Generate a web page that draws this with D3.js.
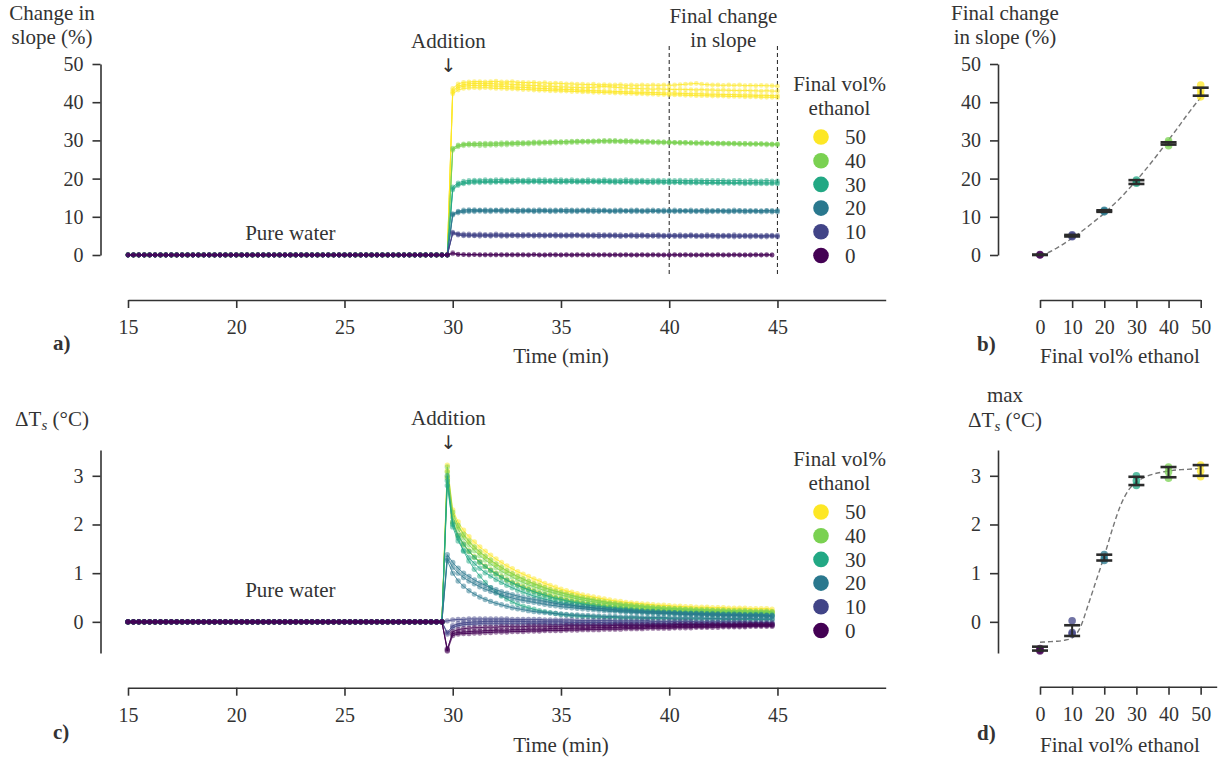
<!DOCTYPE html>
<html>
<head>
<meta charset="utf-8">
<script src="https://cdn.jsdelivr.net/npm/d3@7"></script>
<style>
  body { margin: 0; background: #fff; }
  svg text { font-family: "Liberation Serif", "Times New Roman", serif; }
</style>
</head>
<body>
<svg id="fig" width="1225" height="761"></svg>
<script>
// sample times in minutes, one reading every 15 s from 15 to 45 min
const timeMin = d3.range(15, 45.001, 0.25);
const ethanolPct = [0, 10, 20, 30, 40, 50];
const slopeTicks = [0, 10, 20, 30, 40, 50];
const timeTicks = [15, 20, 25, 30, 35, 40, 45];
const tempTicks = [0, 1, 2, 3];

// a) change in slope (%), pure water phase 15 - 29.75 min (same for every run)
const slopeBefore = [
  0,0,0,0,0,0,0,0,0,0, 0,0,0,0,0,0,0,0,0,0, 0,0,0,0,0,0,0,0,0,0,
  0,0,0,0,0,0,0,0,0,0, 0,0,0,0,0,0,0,0,0,0, 0,0,0,0,0,0,0,0,0,0
];
// a) after addition, 30 - 45 min, one array per run
const slope50 = [
  [43.6,44.8,45.2,45.3,45.4,45.4,45.3,45.4,45.5,45.3,
   45.3,45.4,45.2,45.2,45.1,45.2,45.0,45.1,44.9,45.0,
   44.9,44.8,44.8,44.7,44.7,44.6,44.7,44.5,44.6,44.5,
   44.5,44.6,44.4,44.5,44.4,44.5,44.4,44.5,44.4,44.5,
   44.4,44.5,44.6,44.7,44.8,44.9,44.7,44.6,44.5,44.5,
   44.4,44.5,44.4,44.5,44.3,44.4,44.3,44.4,44.3,44.3,44.2],
  [43.0,44.2,44.6,44.8,44.9,44.9,44.8,44.9,44.8,44.7,
   44.8,44.6,44.6,44.5,44.4,44.4,44.3,44.2,44.2,44.1,
   44.0,44.0,43.9,43.9,43.8,43.8,43.9,44.0,44.1,44.0,
   43.9,43.8,43.7,43.6,43.6,43.5,43.5,43.4,43.5,43.4,
   43.4,43.3,43.4,43.3,43.3,43.2,43.3,43.2,43.2,43.1,
   43.2,43.1,43.1,43.0,43.1,43.0,43.0,42.9,43.0,42.9,42.9],
  [42.6,43.8,44.2,44.3,44.4,44.3,44.4,44.3,44.2,44.2,
   44.1,44.0,43.9,43.9,43.8,43.7,43.6,43.6,43.5,43.4,
   43.4,43.3,43.3,43.2,43.1,43.1,43.0,43.0,42.9,42.9,
   42.8,42.8,42.7,42.7,42.6,42.6,42.6,42.5,42.5,42.4,
   42.4,42.4,42.3,42.3,42.2,42.2,42.2,42.1,42.1,42.1,
   42.0,42.0,42.0,41.9,41.9,41.9,41.8,41.8,41.8,41.7,41.7],
  [42.2,43.2,43.6,43.7,43.8,43.7,43.8,43.7,43.6,43.6,
   43.5,43.5,43.4,43.3,43.3,43.2,43.1,43.1,43.0,43.0,
   42.9,42.9,42.8,42.8,42.7,42.7,42.6,42.6,42.5,42.5,
   42.4,42.4,42.3,42.3,42.2,42.2,42.1,42.1,42.0,42.0,
   41.9,41.9,41.9,41.8,41.8,41.7,41.7,41.7,41.6,41.6,
   41.6,41.5,41.5,41.5,41.4,41.4,41.4,41.3,41.3,41.3,41.2]
];
const slope40 = [
  [27.8,28.6,28.9,29.0,29.0,29.1,29.0,29.0,29.1,29.1,
   29.2,29.2,29.3,29.2,29.3,29.4,29.4,29.5,29.5,29.6,
   29.6,29.7,29.7,29.8,29.8,29.8,29.9,29.9,30.0,30.0,
   30.0,29.9,30.0,29.9,29.9,29.8,29.8,29.7,29.7,29.6,
   29.6,29.5,29.5,29.5,29.4,29.4,29.4,29.3,29.3,29.3,
   29.3,29.2,29.2,29.2,29.2,29.1,29.1,29.1,29.1,29.0,29.0],
  [27.4,28.3,28.6,28.7,28.7,28.6,28.6,28.7,28.7,28.8,
   28.8,28.9,28.9,29.0,29.0,29.1,29.1,29.2,29.2,29.3,
   29.3,29.3,29.4,29.4,29.5,29.5,29.5,29.6,29.6,29.6,
   29.6,29.6,29.5,29.5,29.5,29.4,29.4,29.4,29.3,29.3,
   29.3,29.3,29.2,29.2,29.2,29.1,29.1,29.1,29.1,29.0,
   29.0,29.0,29.0,28.9,28.9,28.9,28.9,28.9,28.8,28.8,28.8],
  [28.0,28.8,29.1,29.2,29.2,29.2,29.3,29.3,29.3,29.4,
   29.4,29.4,29.5,29.5,29.5,29.6,29.6,29.6,29.7,29.7,
   29.7,29.7,29.8,29.8,29.8,29.8,29.8,29.9,29.9,29.9,
   29.9,29.8,29.8,29.8,29.7,29.7,29.7,29.6,29.6,29.6,
   29.5,29.5,29.5,29.5,29.4,29.4,29.4,29.4,29.3,29.3,
   29.3,29.3,29.3,29.2,29.2,29.2,29.2,29.2,29.1,29.1,29.1]
];
const slope30 = [
  [17.8,18.9,19.3,19.5,19.6,19.6,19.7,19.6,19.7,19.7,
   19.6,19.7,19.7,19.6,19.7,19.6,19.7,19.7,19.6,19.7,
   19.7,19.6,19.7,19.6,19.6,19.7,19.6,19.6,19.7,19.6,
   19.6,19.6,19.7,19.6,19.6,19.6,19.5,19.6,19.6,19.5,
   19.6,19.5,19.6,19.5,19.5,19.6,19.5,19.5,19.5,19.5,
   19.5,19.4,19.5,19.5,19.4,19.5,19.4,19.4,19.5,19.4,19.4],
  [17.4,18.5,18.9,19.1,19.2,19.2,19.2,19.3,19.2,19.3,
   19.3,19.2,19.3,19.3,19.2,19.3,19.3,19.2,19.3,19.2,
   19.2,19.3,19.2,19.2,19.3,19.2,19.2,19.2,19.3,19.2,
   19.2,19.1,19.2,19.2,19.1,19.2,19.1,19.1,19.2,19.1,
   19.1,19.1,19.0,19.1,19.1,19.0,19.1,19.0,19.0,19.0,
   19.0,19.0,18.9,19.0,18.9,18.9,19.0,18.9,18.9,18.9,18.9],
  [17.0,18.2,18.6,18.8,18.9,18.9,19.0,18.9,19.0,19.0,
   19.0,19.0,19.1,19.0,19.0,19.1,19.0,19.0,19.1,19.0,
   19.0,19.0,19.1,19.0,19.0,19.0,19.1,19.0,19.0,19.0,
   18.9,19.0,19.0,18.9,18.9,19.0,18.9,18.9,18.9,18.9,
   18.8,18.9,18.9,18.8,18.8,18.8,18.8,18.7,18.8,18.7,
   18.7,18.7,18.7,18.7,18.6,18.7,18.6,18.6,18.6,18.6,18.6]
];
const slope20 = [
  [10.6,11.3,11.5,11.6,11.6,11.7,11.6,11.6,11.7,11.6,
   11.6,11.6,11.5,11.6,11.6,11.5,11.6,11.6,11.5,11.6,
   11.6,11.5,11.6,11.5,11.6,11.6,11.5,11.5,11.6,11.5,
   11.5,11.6,11.5,11.5,11.6,11.5,11.5,11.5,11.6,11.5,
   11.5,11.5,11.6,11.5,11.5,11.5,11.6,11.5,11.5,11.6,
   11.5,11.5,11.5,11.6,11.5,11.5,11.5,11.5,11.6,11.5,11.5],
  [10.4,11.0,11.2,11.3,11.3,11.4,11.3,11.3,11.4,11.3,
   11.3,11.4,11.3,11.3,11.4,11.3,11.3,11.4,11.3,11.3,
   11.4,11.3,11.3,11.3,11.4,11.3,11.3,11.3,11.4,11.3,
   11.3,11.3,11.4,11.3,11.3,11.3,11.3,11.4,11.3,11.3,
   11.3,11.3,11.3,11.4,11.3,11.3,11.3,11.2,11.3,11.3,
   11.3,11.2,11.3,11.3,11.2,11.3,11.3,11.2,11.3,11.2,11.2],
  [10.8,11.5,11.8,11.9,11.9,11.8,11.9,11.8,11.8,11.9,
   11.8,11.8,11.9,11.8,11.8,11.8,11.9,11.8,11.8,11.8,
   11.8,11.9,11.8,11.8,11.8,11.8,11.9,11.8,11.8,11.7,
   11.8,11.8,11.7,11.8,11.8,11.7,11.8,11.8,11.7,11.8,
   11.7,11.8,11.7,11.7,11.8,11.7,11.7,11.8,11.7,11.7,
   11.7,11.7,11.8,11.7,11.7,11.7,11.7,11.6,11.7,11.7,11.7]
];
const slope10 = [
  [6.0,5.6,5.5,5.5,5.4,5.5,5.4,5.4,5.5,5.4,
   5.4,5.4,5.3,5.4,5.4,5.3,5.4,5.3,5.3,5.4,
   5.3,5.3,5.4,5.3,5.3,5.3,5.3,5.4,5.3,5.3,
   5.3,5.3,5.2,5.3,5.3,5.3,5.2,5.3,5.3,5.2,
   5.3,5.2,5.3,5.2,5.3,5.2,5.2,5.3,5.2,5.2,
   5.2,5.2,5.3,5.2,5.2,5.2,5.2,5.1,5.2,5.2,5.2],
  [5.6,5.2,5.0,5.0,5.0,4.9,5.0,4.9,5.0,4.9,
   4.9,5.0,4.9,4.9,5.0,4.9,4.9,4.9,5.0,4.9,
   4.9,4.9,4.9,5.0,4.9,4.9,4.9,4.8,4.9,4.9,
   4.9,4.8,4.9,4.9,4.8,4.9,4.8,4.9,4.8,4.8,
   4.9,4.8,4.8,4.8,4.9,4.8,4.8,4.8,4.8,4.7,
   4.8,4.8,4.7,4.8,4.8,4.7,4.8,4.7,4.7,4.8,4.7],
  [5.8,5.4,5.2,5.2,5.1,5.2,5.1,5.1,5.2,5.1,
   5.1,5.1,5.2,5.1,5.1,5.1,5.2,5.1,5.1,5.1,
   5.1,5.1,5.1,5.2,5.1,5.1,5.1,5.0,5.1,5.1,
   5.1,5.0,5.1,5.1,5.0,5.1,5.1,5.0,5.1,5.0,
   5.0,5.1,5.0,5.0,5.1,5.0,5.0,5.0,5.1,5.0,
   5.0,5.0,5.0,4.9,5.0,5.0,5.0,4.9,5.0,5.0,4.9]
];
const slope0 = [
  [0.6,0.2,0.1,0.1,0.1,0.1,0.0,0.1,0.1,0.0,
   0.1,0.0,0.1,0.1,0.0,0.1,0.0,0.0,0.1,0.0,
   0.0,0.1,0.0,0.0,0.1,0.0,0.0,0.0,0.1,0.0,
   0.0,0.0,0.1,0.0,0.0,0.0,0.0,0.1,0.0,0.0,
   0.0,0.0,0.0,0.1,0.0,0.0,0.0,0.0,0.0,0.1,
   0.0,0.0,0.0,0.0,0.0,0.0,0.1,0.0,0.0,0.0],
  [0.3,0.1,0.1,0.0,0.1,0.0,0.1,0.0,0.0,0.1,
   0.0,0.1,0.0,0.0,0.0,0.1,0.0,0.0,0.0,0.1,
   0.0,0.0,0.0,0.1,0.0,0.0,0.1,0.0,0.0,0.0,
   0.1,0.0,0.0,0.0,0.0,0.1,0.0,0.0,0.0,0.0,
   0.0,0.1,0.0,0.0,0.0,0.0,0.0,0.1,0.0,0.0,
   0.0,0.0,0.1,0.0,0.0,0.0,0.0,0.0,0.1,0.0]
];

// c) ΔTs (°C), pure water phase 15 - 29.5 min (same for every run)
const tempBefore = [
  0,0,0,0,0,0,0,0,0,0, 0,0,0,0,0,0,0,0,0,0, 0,0,0,0,0,0,0,0,0,0,
  0,0,0,0,0,0,0,0,0,0, 0,0,0,0,0,0,0,0,0,0, 0,0,0,0,0,0,0,0,0
];
// c) after addition, 29.75 - 44.75 min, one array per run
const temp50 = [
  [3.22,2.30,2.05,1.88,1.75,1.64,1.54,1.45,1.37,1.29,
   1.22,1.15,1.09,1.03,0.98,0.93,0.88,0.84,0.79,0.75,
   0.71,0.67,0.64,0.61,0.58,0.55,0.53,0.51,0.49,0.47,
   0.45,0.43,0.42,0.40,0.39,0.38,0.37,0.36,0.35,0.34,
   0.34,0.33,0.32,0.32,0.31,0.31,0.30,0.30,0.30,0.29,
   0.29,0.29,0.28,0.28,0.28,0.28,0.27,0.27,0.27,0.27,0.26],
  [3.10,2.20,1.95,1.78,1.64,1.53,1.43,1.34,1.26,1.18,
   1.11,1.05,0.99,0.93,0.88,0.83,0.79,0.75,0.71,0.67,
   0.64,0.61,0.58,0.55,0.52,0.50,0.48,0.46,0.44,0.42,
   0.40,0.39,0.37,0.36,0.35,0.34,0.33,0.32,0.31,0.30,
   0.30,0.29,0.28,0.28,0.27,0.27,0.26,0.26,0.26,0.25,
   0.25,0.25,0.24,0.24,0.24,0.24,0.23,0.23,0.23,0.23,0.22],
  [2.98,2.05,1.78,1.60,1.46,1.34,1.24,1.15,1.07,1.00,
   0.93,0.87,0.82,0.77,0.72,0.68,0.64,0.60,0.57,0.54,
   0.51,0.48,0.46,0.44,0.42,0.40,0.38,0.36,0.35,0.34,
   0.32,0.31,0.30,0.29,0.28,0.27,0.27,0.26,0.25,0.25,
   0.24,0.24,0.23,0.23,0.23,0.22,0.22,0.22,0.21,0.21,
   0.21,0.21,0.20,0.20,0.20,0.20,0.20,0.19,0.19,0.19,0.19]
];
const temp40 = [
  [3.18,2.25,1.98,1.80,1.66,1.54,1.44,1.35,1.27,1.19,
   1.12,1.05,0.99,0.93,0.88,0.83,0.78,0.74,0.70,0.66,
   0.63,0.60,0.57,0.54,0.51,0.49,0.47,0.45,0.43,0.41,
   0.39,0.38,0.36,0.35,0.34,0.33,0.32,0.31,0.30,0.29,
   0.28,0.28,0.27,0.27,0.26,0.26,0.25,0.25,0.25,0.24,
   0.24,0.24,0.23,0.23,0.23,0.23,0.22,0.22,0.22,0.22,0.21],
  [3.08,2.15,1.90,1.72,1.58,1.46,1.36,1.27,1.19,1.11,
   1.04,0.98,0.92,0.86,0.81,0.76,0.72,0.68,0.64,0.61,
   0.58,0.55,0.52,0.50,0.47,0.45,0.43,0.41,0.40,0.38,
   0.37,0.35,0.34,0.33,0.32,0.31,0.30,0.29,0.28,0.28,
   0.27,0.26,0.26,0.25,0.25,0.24,0.24,0.23,0.23,0.23,
   0.22,0.22,0.22,0.21,0.21,0.21,0.21,0.20,0.20,0.20,0.20],
  [2.95,2.02,1.76,1.58,1.44,1.32,1.22,1.13,1.05,0.98,
   0.91,0.85,0.80,0.75,0.70,0.66,0.62,0.58,0.55,0.52,
   0.49,0.47,0.44,0.42,0.40,0.38,0.37,0.35,0.34,0.32,
   0.31,0.30,0.29,0.28,0.27,0.26,0.25,0.25,0.24,0.23,
   0.23,0.22,0.22,0.21,0.21,0.21,0.20,0.20,0.20,0.19,
   0.19,0.19,0.19,0.19,0.18,0.18,0.18,0.18,0.18,0.18,0.17]
];
const temp30 = [
  [3.00,2.05,1.78,1.60,1.45,1.33,1.23,1.14,1.06,0.99,
   0.92,0.86,0.80,0.75,0.70,0.66,0.62,0.58,0.55,0.51,
   0.48,0.46,0.43,0.41,0.39,0.37,0.35,0.33,0.32,0.30,
   0.29,0.28,0.27,0.26,0.25,0.24,0.23,0.22,0.22,0.21,
   0.20,0.20,0.19,0.19,0.18,0.18,0.18,0.17,0.17,0.17,
   0.16,0.16,0.16,0.16,0.15,0.15,0.15,0.15,0.15,0.14,0.14],
  [2.90,1.95,1.66,1.47,1.32,1.20,1.10,1.01,0.94,0.87,
   0.81,0.75,0.70,0.65,0.61,0.57,0.53,0.50,0.47,0.44,
   0.41,0.39,0.37,0.35,0.33,0.31,0.30,0.28,0.27,0.26,
   0.25,0.24,0.23,0.22,0.21,0.21,0.20,0.19,0.19,0.18,
   0.18,0.17,0.17,0.16,0.16,0.16,0.15,0.15,0.15,0.14,
   0.14,0.14,0.14,0.13,0.13,0.13,0.13,0.13,0.12,0.12,0.12],
  [2.80,2.00,1.72,1.45,1.25,1.08,0.94,0.81,0.70,0.61,
   0.53,0.47,0.41,0.36,0.32,0.29,0.26,0.23,0.21,0.19,
   0.17,0.15,0.14,0.13,0.12,0.11,0.11,0.10,0.10,0.09,
   0.09,0.09,0.08,0.08,0.08,0.08,0.07,0.07,0.07,0.07,
   0.07,0.07,0.06,0.06,0.06,0.06,0.06,0.06,0.06,0.06,
   0.06,0.05,0.05,0.05,0.05,0.05,0.05,0.05,0.05,0.05,0.05]
];
const temp20 = [
  [1.38,1.22,1.10,1.00,0.93,0.86,0.80,0.75,0.70,0.66,
   0.62,0.59,0.56,0.53,0.50,0.48,0.46,0.44,0.42,0.40,
   0.38,0.36,0.35,0.34,0.32,0.31,0.30,0.29,0.28,0.27,
   0.26,0.25,0.24,0.24,0.23,0.22,0.22,0.21,0.21,0.20,
   0.20,0.19,0.19,0.18,0.18,0.17,0.17,0.17,0.16,0.16,
   0.16,0.15,0.15,0.15,0.15,0.14,0.14,0.14,0.14,0.13,0.13],
  [1.30,1.12,1.00,0.91,0.84,0.78,0.72,0.67,0.63,0.59,
   0.55,0.52,0.49,0.46,0.44,0.42,0.40,0.38,0.36,0.34,
   0.33,0.31,0.30,0.29,0.28,0.27,0.26,0.25,0.24,0.23,
   0.22,0.22,0.21,0.20,0.20,0.19,0.19,0.18,0.18,0.17,
   0.17,0.17,0.16,0.16,0.15,0.15,0.15,0.14,0.14,0.14,
   0.14,0.13,0.13,0.13,0.13,0.12,0.12,0.12,0.12,0.12,0.11],
  [1.26,1.00,0.84,0.73,0.64,0.57,0.51,0.46,0.42,0.38,
   0.35,0.32,0.29,0.27,0.25,0.23,0.21,0.20,0.19,0.18,
   0.17,0.16,0.15,0.14,0.14,0.13,0.13,0.12,0.12,0.11,
   0.11,0.11,0.10,0.10,0.10,0.10,0.09,0.09,0.09,0.09,
   0.09,0.08,0.08,0.08,0.08,0.08,0.08,0.08,0.07,0.07,
   0.07,0.07,0.07,0.07,0.07,0.07,0.07,0.06,0.06,0.06,0.06]
];
const temp10 = [
  [-0.22,-0.08,-0.04,-0.02,-0.01,0.00,0.00,0.01,0.01,0.01,
   0.01,0.01,0.01,0.01,0.01,0.00,0.00,0.00,0.00,0.00,
   0.00,0.00,-0.01,-0.01,-0.01,-0.01,-0.01,-0.01,-0.01,-0.02,
   -0.02,-0.02,-0.02,-0.02,-0.02,-0.02,-0.02,-0.02,-0.03,-0.03,
   -0.03,-0.03,-0.03,-0.03,-0.03,-0.03,-0.03,-0.03,-0.03,-0.03,
   -0.03,-0.04,-0.04,-0.04,-0.04,-0.04,-0.04,-0.04,-0.04,-0.04,-0.04],
  [0.02,0.04,0.05,0.05,0.06,0.06,0.06,0.06,0.06,0.06,
   0.06,0.06,0.05,0.05,0.05,0.05,0.05,0.05,0.04,0.04,
   0.04,0.04,0.04,0.04,0.03,0.03,0.03,0.03,0.03,0.03,
   0.03,0.02,0.02,0.02,0.02,0.02,0.02,0.02,0.01,0.01,
   0.01,0.01,0.01,0.01,0.01,0.01,0.00,0.00,0.00,0.00,
   0.00,0.00,0.00,0.00,0.00,0.00,-0.01,-0.01,-0.01,-0.01,-0.01],
  [-0.25,-0.12,-0.08,-0.06,-0.05,-0.05,-0.04,-0.04,-0.04,-0.04,
   -0.04,-0.04,-0.04,-0.04,-0.04,-0.04,-0.04,-0.04,-0.04,-0.05,
   -0.05,-0.05,-0.05,-0.05,-0.05,-0.05,-0.05,-0.05,-0.05,-0.05,
   -0.05,-0.05,-0.05,-0.06,-0.06,-0.06,-0.06,-0.06,-0.06,-0.06,
   -0.06,-0.06,-0.06,-0.06,-0.06,-0.06,-0.06,-0.06,-0.06,-0.06,
   -0.06,-0.06,-0.06,-0.06,-0.06,-0.06,-0.06,-0.06,-0.06,-0.06,-0.06]
];
const temp0 = [
  [-0.60,-0.28,-0.25,-0.24,-0.24,-0.23,-0.23,-0.22,-0.22,-0.21,
   -0.21,-0.21,-0.20,-0.20,-0.20,-0.19,-0.19,-0.19,-0.18,-0.18,
   -0.18,-0.18,-0.17,-0.17,-0.17,-0.16,-0.16,-0.16,-0.16,-0.15,
   -0.15,-0.15,-0.15,-0.14,-0.14,-0.14,-0.14,-0.13,-0.13,-0.13,
   -0.13,-0.13,-0.12,-0.12,-0.12,-0.12,-0.11,-0.11,-0.11,-0.11,
   -0.11,-0.10,-0.10,-0.10,-0.10,-0.10,-0.09,-0.09,-0.09,-0.09,-0.09],
  [-0.55,-0.24,-0.22,-0.21,-0.20,-0.19,-0.19,-0.18,-0.18,-0.17,
   -0.17,-0.17,-0.16,-0.16,-0.16,-0.15,-0.15,-0.15,-0.15,-0.14,
   -0.14,-0.14,-0.14,-0.13,-0.13,-0.13,-0.13,-0.12,-0.12,-0.12,
   -0.12,-0.12,-0.11,-0.11,-0.11,-0.11,-0.11,-0.10,-0.10,-0.10,
   -0.10,-0.10,-0.10,-0.09,-0.09,-0.09,-0.09,-0.09,-0.09,-0.08,
   -0.08,-0.08,-0.08,-0.08,-0.08,-0.08,-0.07,-0.07,-0.07,-0.07,-0.07],
  [-0.58,-0.20,-0.16,-0.14,-0.13,-0.12,-0.12,-0.11,-0.11,-0.11,
   -0.10,-0.10,-0.10,-0.10,-0.10,-0.09,-0.09,-0.09,-0.09,-0.09,
   -0.09,-0.09,-0.08,-0.08,-0.08,-0.08,-0.08,-0.08,-0.08,-0.08,
   -0.08,-0.07,-0.07,-0.07,-0.07,-0.07,-0.07,-0.07,-0.07,-0.07,
   -0.07,-0.07,-0.06,-0.06,-0.06,-0.06,-0.06,-0.06,-0.06,-0.06,
   -0.06,-0.06,-0.06,-0.06,-0.05,-0.05,-0.05,-0.05,-0.05,-0.05,-0.05]
];

// b) final change in slope (%), one value per run, plus mean and error bar
const finalSlope = [[0.0, 0.1], [4.8, 5.0, 5.3], [11.3, 11.5, 11.7], [18.8, 19.1, 19.6], [28.6, 29.3, 29.9], [41.4, 42.1, 43.2, 44.5]];
const finalSlopeMean = [0.05, 5.05, 11.5, 19.1, 29.2, 42.75];
const finalSlopeErr = [0.05, 0.2, 0.2, 0.5, 0.3, 1.05];
const fitX = [0, 2.5, 5, 7.5, 10, 12.5, 15, 17.5, 20, 22.5, 25, 27.5, 30, 32.5, 35, 37.5, 40, 42.5, 45, 47.5, 50];
const slopeFit = [0, 0.6, 1.7, 3.0, 4.4, 5.9, 7.5, 9.2, 10.9, 12.9, 14.9, 17.2, 19.5, 22.0, 24.6, 27.3, 30.1, 32.9, 35.8, 38.6, 41.2];

// d) max ΔTs (°C), one value per run, plus mean and error bar
const maxTemp = [[-0.60, -0.55, -0.58], [-0.22, 0.02, -0.25], [1.38, 1.30, 1.26], [3.00, 2.90, 2.80], [3.18, 3.08, 2.95], [3.22, 3.10, 2.98]];
const maxTempMean = [-0.55, -0.18, 1.32, 2.895, 3.075, 3.11];
const maxTempErr = [0.04, 0.11, 0.06, 0.085, 0.105, 0.11];
const tempFit = [-0.42, -0.41, -0.40, -0.38, -0.33, -0.12, 0.35, 0.85, 1.35, 1.90, 2.38, 2.70, 2.87, 2.97, 3.03, 3.07, 3.10, 3.12, 3.13, 3.14, 3.15];

const slopeRuns = { 0: slope0, 10: slope10, 20: slope20, 30: slope30, 40: slope40, 50: slope50 };
const tempRuns = { 0: temp0, 10: temp10, 20: temp20, 30: temp30, 40: temp40, 50: temp50 };

const FONT = '"Liberation Serif", "Times New Roman", serif';
const ink = "#333";
const svg = d3.select("#fig");
const color = d3.scaleSequential(d3.interpolateViridis).domain([0, 50]);

const xTime = d3.scaleLinear().domain([15, 50]).range([128, 885.7]);
const ySlope = d3.scaleLinear().domain([0, 50]).range([255, 64]);
const yTemp = d3.scaleLinear().domain([-0.64, 3.53]).range([653, 450]);
const xConcB = d3.scaleLinear().domain([0, 50]).range([1040, 1200.7]);
const xConcD = d3.scaleLinear().domain([0, 55]).range([1040, 1216.7]);

function axis(gen, tx, ty, ticks, pad) {
  const g = svg.append("g")
    .attr("transform", "translate(" + tx + "," + ty + ")")
    .call(gen.tickValues(ticks).tickFormat(d3.format("d"))
      .tickSize(8).tickSizeOuter(0).tickPadding(pad));
  g.attr("font-family", null).attr("font-size", null);
  g.select(".domain").attr("stroke", ink).attr("stroke-width", 1.6);
  g.selectAll(".tick line").attr("stroke", ink).attr("stroke-width", 1.6);
  g.selectAll(".tick text").attr("fill", ink)
    .style("font-family", FONT).style("font-size", "20px");
}

function textLines(x, y, lines, opts) {
  opts = opts || {};
  const t = svg.append("text")
    .attr("text-anchor", opts.anchor || "middle")
    .style("font-size", (opts.size || 21) + "px")
    .attr("fill", ink);
  if (opts.bold) t.attr("font-weight", "bold");
  lines.forEach((s, i) => t.append("tspan").attr("x", x).attr("y", y + i * 24).text(s));
  return t;
}

function arrow(x, y) {
  svg.append("text").attr("x", x).attr("y", y).attr("text-anchor", "middle")
    .style("font-family", '"DejaVu Sans", sans-serif').style("font-size", "19px")
    .attr("fill", ink).text("\u2193\uFE0E");
}

function deltaT(x, y) {
  const t = svg.append("text").attr("x", x).attr("y", y)
    .attr("text-anchor", "middle").style("font-size", "21px").attr("fill", ink);
  t.append("tspan").text("\u0394T");
  t.append("tspan").attr("font-style", "italic").style("font-size", "15px").attr("dy", 4).text("s");
  t.append("tspan").attr("dy", -4).text(" (\u00B0C)");
}

function drawRuns(runs, before, yScale, r) {
  const g = svg.append("g");
  const line = d3.line().x(d => xTime(d[0])).y(d => yScale(d[1]));
  ethanolPct.slice().reverse().forEach(c => {
    runs[c].forEach(run => {
      const pts = before.concat(run).map((v, i) => [timeMin[i], v]);
      g.append("path").attr("d", line(pts))
        .attr("fill", "none").attr("stroke", color(c))
        .attr("stroke-width", 1).attr("stroke-opacity", 0.8);
      g.append("g").selectAll("circle").data(pts).join("circle")
        .attr("cx", d => xTime(d[0])).attr("cy", d => yScale(d[1]))
        .attr("r", r).attr("fill", color(c)).attr("fill-opacity", 0.5);
    });
  });
}

function legend(top) {
  textLines(839.5, top, ["Final vol%", "ethanol"]);
  const ly = d3.scalePoint().domain(ethanolPct.slice().reverse()).range([top + 46, top + 164.5]);
  const g = svg.append("g");
  g.selectAll("circle").data(ethanolPct).join("circle")
    .attr("cx", 821).attr("cy", d => ly(d)).attr("r", 7.8).attr("fill", d => color(d));
  g.selectAll("text").data(ethanolPct).join("text")
    .attr("x", 845).attr("y", d => ly(d)).attr("dy", "0.35em")
    .style("font-size", "21px").attr("fill", ink)
    .text(d => d);
}

function summary(xScale, yScale, points, means, errs, fit) {
  const g = svg.append("g");
  g.append("path")
    .attr("d", d3.line().curve(d3.curveMonotoneX).x((d, i) => xScale(fitX[i])).y(d => yScale(d))(fit))
    .attr("fill", "none").attr("stroke", "#777").attr("stroke-width", 1.4).attr("stroke-dasharray", "5,3");
  ethanolPct.forEach((c, i) => {
    g.append("g").selectAll("circle").data(points[i]).join("circle")
      .attr("cx", xScale(c)).attr("cy", d => yScale(d)).attr("r", 3.8)
      .attr("fill", color(c)).attr("fill-opacity", 0.75);
  });
  ethanolPct.forEach((c, i) => {
    const lo = yScale(means[i] - errs[i]), hi = yScale(means[i] + errs[i]);
    g.append("line").attr("x1", xScale(c)).attr("x2", xScale(c)).attr("y1", lo).attr("y2", hi)
      .attr("stroke", "#2b2b2b").attr("stroke-width", 2);
    [lo, hi].forEach(yy => g.append("line")
      .attr("x1", xScale(c) - 8).attr("x2", xScale(c) + 8).attr("y1", yy).attr("y2", yy)
      .attr("stroke", "#2b2b2b").attr("stroke-width", 2.6));
  });
}

// ---- a) ----
[40, 45].forEach(t => svg.append("line")
  .attr("x1", xTime(t)).attr("x2", xTime(t)).attr("y1", ySlope(-5)).attr("y2", ySlope(55))
  .attr("stroke", ink).attr("stroke-width", 1.1).attr("stroke-dasharray", "4,3"));
drawRuns(slopeRuns, slopeBefore, ySlope, 2.4);
axis(d3.axisLeft(ySlope), 100.5, 0, slopeTicks, 9);
axis(d3.axisBottom(xTime), 0, 300, timeTicks, 12);
textLines(52, 20, ["Change in", "slope (%)"]);
textLines(xTime(29.8), 48, ["Addition"]);
arrow(xTime(29.8), 72);
textLines(xTime(42.5), 22.5, ["Final change", "in slope"]);
textLines(xTime(22.5), 240, ["Pure water"]);
textLines(xTime(35), 363, ["Time (min)"]);
textLines(53, 350, ["a)"], { anchor: "start", bold: true });
legend(91);

// ---- b) ----
summary(xConcB, ySlope, finalSlope, finalSlopeMean, finalSlopeErr, slopeFit);
axis(d3.axisLeft(ySlope), 998, 0, slopeTicks, 9);
axis(d3.axisBottom(xConcB), 0, 300, ethanolPct, 12);
textLines(1005, 20, ["Final change", "in slope (%)"]);
textLines(1120, 363, ["Final vol% ethanol"]);
textLines(977, 351, ["b)"], { anchor: "start", bold: true });

// ---- c) ----
drawRuns(tempRuns, tempBefore, yTemp, 2.7);
axis(d3.axisLeft(yTemp), 100.5, 0, tempTicks, 9);
axis(d3.axisBottom(xTime), 0, 687.7, timeTicks, 12);
deltaT(52, 426);
textLines(xTime(29.8), 425, ["Addition"]);
arrow(xTime(29.8), 449);
textLines(xTime(22.5), 597, ["Pure water"]);
textLines(xTime(35), 752, ["Time (min)"]);
textLines(53, 739, ["c)"], { anchor: "start", bold: true });
legend(466);

// ---- d) ----
summary(xConcD, yTemp, maxTemp, maxTempMean, maxTempErr, tempFit);
axis(d3.axisLeft(yTemp), 998, 0, tempTicks, 9);
axis(d3.axisBottom(xConcD), 0, 686.7, ethanolPct, 12);
textLines(1005, 402, ["max"]);
deltaT(1005, 426.5);
textLines(1120, 752, ["Final vol% ethanol"]);
textLines(977, 740, ["d)"], { anchor: "start", bold: true });
</script>
</body>
</html>
